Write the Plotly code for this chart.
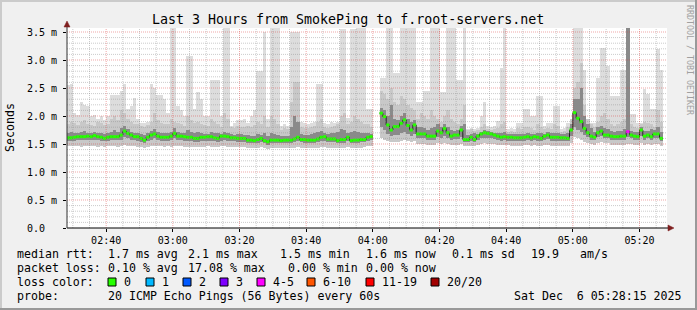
import plotly.graph_objects as go
import pandas as pd

# ---------------- data (1-minute bins starting 02:28) ----------------
start = pd.Timestamp("2025-12-06 02:28:00")
end_time = pd.Timestamp("2025-12-06 05:28:15")
begin_time = pd.Timestamp("2025-12-06 02:28:15")

median_ms = [1.61,1.61,1.62,1.63,1.63,1.63,1.64,1.63,1.65,1.63, 1.62,1.60,1.62,1.63,1.63,1.63,1.66,1.73,1.69,1.66,
             1.63,1.63,1.60,1.57,1.62,1.66,1.68,1.64,1.62,1.62,
             1.62,1.64,1.69,1.64,1.64,1.63,1.62,1.62,1.60,1.60, 1.62,1.62,1.63,1.63,1.61,1.60,1.64,1.64,1.63,1.61,
             1.61,1.60,1.60,1.60,1.57,1.57,1.56,1.58,1.60,1.56,
             1.54,1.57,1.57,1.57,1.56,1.57,1.57,1.57,1.59,1.62, 1.58,1.58,1.57,1.57,1.57,1.59,1.62,1.63,1.59,1.59,
             1.59,1.56,1.58,1.58,1.62,1.56,1.57,1.57,1.58,1.58,
             1.62,1.63,None,None,2.05,1.99,1.84,1.75,1.81,1.81, 1.87,1.93,1.83,1.75,1.84,1.68,1.68,1.68,1.64,1.64,
             1.64,1.73,1.70,1.78,1.70,1.64,1.66,1.66,1.75,1.58,
             1.58,1.62,1.58,1.64,1.68,1.70,1.69,1.68,1.66,1.64, 1.62,1.63,1.62,1.62,1.61,1.61,1.61,1.62,1.63,1.61,
             1.63,1.62,1.60,1.64,1.66,1.62,1.62,1.62,1.61,1.61,
             1.60,1.75,2.06,1.96,1.90,1.78,1.70,1.64,1.62,1.70, 1.73,1.66,1.66,1.64,1.63,1.63,1.64,1.64,1.72,1.66,
             1.64,1.63,1.75,1.64,1.66,1.63,1.68,1.68,1.60]

ping_max = [2.55,2.57,2.05,2.02,2.25,2.2,2.18,2.0,2.02,1.95, 2.0,1.92,2.0,2.38,2.38,2.38,2.45,2.57,2.12,2.18,
            2.32,1.95,1.88,1.88,1.9,2.57,2.5,2.38,2.38,2.3,
            2.06,3.6,3.6,2.18,2.1,2.0,3.07,3.07,2.12,2.42, 2.3,2.0,2.0,2.65,2.65,2.65,2.0,3.6,3.6,1.82,
            1.88,1.92,1.92,1.95,1.88,2.0,2.1,2.8,2.8,3.5,
            1.94,3.6,3.6,3.6,1.82,1.85,1.82,3.5,3.5,3.5, 1.9,1.88,1.85,1.88,1.9,2.57,2.57,1.88,1.85,1.9,
            1.88,1.9,3.55,3.55,1.97,3.55,3.55,3.6,3.6,3.6,
            2.12,2.12,None,None,2.68,2.68,3.6,3.6,2.77,2.77, 3.6,3.6,3.6,3.6,3.6,2.25,2.25,2.45,2.45,3.6,
            3.6,3.6,2.42,2.42,3.6,3.6,3.6,2.65,2.65,3.6,
            1.76,1.78,1.76,1.78,2.0,2.25,1.82,1.8,1.82,1.91, 2.86,3.6,1.76,1.78,1.76,1.88,1.88,2.12,2.12,2.0,
            2.0,2.36,2.36,1.82,1.88,1.88,2.18,2.18,1.76,1.78,
            1.88,1.88,3.6,3.6,3.6,2.83,1.88,1.88,1.88,2.68, 3.22,3.22,2.9,2.36,2.36,2.36,2.83,2.83,3.6,2.03,
            2.03,1.88,1.88,2.48,2.39,2.12,2.12,3.19,2.83]

ping_hi = [1.85,1.9,1.88,1.84,1.9,1.92,1.86,1.84,1.82,1.9, 1.88,1.84,1.86,1.95,2.0,1.92,2.1,2.05,1.95,1.9,
           1.86,1.85,1.82,1.8,1.84,1.9,2.05,1.92,1.88,1.86,
           1.85,1.95,1.9,1.88,1.85,1.82,2.0,1.92,1.88,1.9, 1.85,1.84,1.82,1.95,1.9,1.85,1.8,2.05,1.95,1.8,
           1.78,1.82,1.8,1.8,1.82,1.8,1.84,1.9,1.85,2.0,
           1.8,2.0,1.95,1.85,1.75,1.78,1.76,2.25,2.6,2.6, 1.8,1.78,1.78,1.8,1.82,1.9,1.95,1.8,1.78,1.8,
           1.82,1.85,2.0,2.05,1.85,1.9,2.0,1.95,1.9,1.85,
           1.85,1.8,None,None,2.45,2.4,2.3,2.5,2.25,2.2, 2.35,2.3,2.2,2.15,2.1,1.95,2.05,2.0,1.95,2.1,
           2.0,1.95,1.9,2.0,2.1,1.95,1.9,1.85,1.95,2.2,
           1.75,1.76,1.74,1.75,1.8,1.85,1.76,1.75,1.76,1.78, 1.85,1.9,1.72,1.74,1.72,1.78,1.76,1.8,1.8,1.78,
           1.75,1.85,1.8,1.76,1.78,1.76,1.85,1.82,1.72,1.74,
           1.8,1.95,2.5,2.6,2.95,2.2,1.95,1.85,1.8,1.9, 2.0,2.05,1.95,1.85,1.82,1.85,1.9,1.95,3.6,1.85,
           1.8,1.78,1.85,1.9,1.88,1.85,1.8,2.1,1.9]

ping_q3 = [1.7,1.72,1.7,1.7,1.72,1.74,1.7,1.7,1.72,1.7, 1.7,1.68,1.7,1.72,1.75,1.72,1.78,1.82,1.76,1.72,
           1.7,1.7,1.68,1.66,1.7,1.74,1.76,1.72,1.7,1.7,
           1.7,1.72,1.78,1.72,1.7,1.7,1.75,1.72,1.7,1.72, 1.7,1.68,1.68,1.72,1.7,1.7,1.68,1.72,1.7,1.68,
           1.66,1.68,1.67,1.66,1.66,1.64,1.65,1.68,1.66,1.7,
           1.64,1.7,1.68,1.66,1.64,1.65,1.64,1.8,2.0,1.9, 1.68,1.66,1.66,1.68,1.7,1.72,1.74,1.7,1.68,1.7,
           1.7,1.72,1.76,1.75,1.7,1.72,1.74,1.72,1.7,1.7,
           1.7,1.68,None,None,2.15,2.1,2.0,2.2,1.95,1.92, 2.0,2.05,1.95,1.9,1.92,1.8,1.8,1.78,1.75,1.78,
           1.8,1.85,1.8,1.86,1.8,1.75,1.74,1.75,1.82,1.85,
           1.66,1.67,1.7,1.68,1.72,1.75,1.74,1.72,1.7,1.7, 1.7,1.72,1.68,1.68,1.67,1.68,1.67,1.68,1.7,1.68,
           1.68,1.7,1.7,1.68,1.72,1.7,1.7,1.7,1.68,1.68,
           1.7,1.85,2.3,2.3,2.5,2.0,1.85,1.78,1.72,1.8, 1.82,1.78,1.76,1.74,1.72,1.74,1.74,1.76,3.6,1.74,
           1.72,1.72,1.8,1.74,1.74,1.76,1.75,1.8,1.72]

ping_q1 = [1.55,1.56,1.56,1.57,1.57,1.58,1.58,1.57,1.58,1.57, 1.56,1.55,1.56,1.57,1.57,1.57,1.58,1.62,1.6,1.58,
           1.57,1.56,1.54,1.52,1.55,1.58,1.6,1.57,1.56,1.56,
           1.56,1.57,1.6,1.57,1.57,1.56,1.56,1.55,1.54,1.54, 1.55,1.56,1.56,1.56,1.55,1.54,1.56,1.57,1.56,1.55,
           1.55,1.54,1.54,1.54,1.52,1.52,1.51,1.52,1.54,1.51,
           1.49,1.51,1.52,1.52,1.51,1.52,1.52,1.52,1.53,1.55, 1.53,1.52,1.52,1.52,1.52,1.53,1.55,1.56,1.53,1.53,
           1.53,1.51,1.52,1.52,1.55,1.51,1.52,1.52,1.53,1.53,
           1.56,1.57,None,None,1.8,1.75,1.68,1.64,1.66,1.66, 1.7,1.72,1.68,1.64,1.68,1.6,1.6,1.6,1.58,1.58,
           1.58,1.62,1.61,1.64,1.61,1.58,1.59,1.59,1.62,1.53,
           1.53,1.56,1.53,1.57,1.6,1.61,1.6,1.6,1.59,1.58, 1.56,1.57,1.56,1.56,1.55,1.55,1.55,1.56,1.57,1.55,
           1.57,1.56,1.55,1.58,1.59,1.56,1.56,1.56,1.55,1.55,
           1.55,1.64,1.8,1.75,1.72,1.66,1.62,1.58,1.57,1.62, 1.64,1.6,1.6,1.58,1.58,1.58,1.58,1.58,1.62,1.6,
           1.58,1.58,1.64,1.58,1.6,1.58,1.6,1.6,1.55]

ping_min = [1.46,1.46,1.47,1.47,1.45,1.46,1.47,1.47,1.46,1.45, 1.46,1.45,1.46,1.47,1.46,1.45,1.46,1.48,1.47,1.46,
            1.46,1.45,1.44,1.43,1.45,1.47,1.47,1.46,1.46,1.45,
            1.46,1.45,1.47,1.46,1.46,1.45,1.45,1.45,1.44,1.44, 1.45,1.45,1.46,1.45,1.45,1.44,1.46,1.46,1.45,1.44,
            1.45,1.44,1.44,1.44,1.43,1.43,1.42,1.43,1.44,1.42,
            1.41,1.42,1.43,1.43,1.42,1.43,1.43,1.42,1.43,1.44, 1.43,1.43,1.42,1.43,1.43,1.43,1.44,1.45,1.43,1.43,
            1.43,1.42,1.43,1.43,1.44,1.42,1.43,1.43,1.43,1.44,
            1.46,1.47,None,None,1.6,1.58,1.55,1.53,1.54,1.54, 1.56,1.57,1.55,1.53,1.55,1.5,1.5,1.5,1.49,1.49,
            1.49,1.51,1.5,1.52,1.5,1.48,1.49,1.49,1.5,1.46,
            1.46,1.47,1.46,1.48,1.5,1.51,1.5,1.5,1.5,1.49, 1.48,1.48,1.48,1.47,1.47,1.47,1.47,1.48,1.48,1.47,
            1.48,1.47,1.47,1.48,1.49,1.47,1.47,1.47,1.46,1.46,
            1.47,1.52,1.62,1.6,1.58,1.54,1.52,1.5,1.49,1.52, 1.53,1.51,1.51,1.49,1.49,1.49,1.49,1.49,1.5,1.5,
            1.49,1.49,1.52,1.49,1.5,1.49,1.5,1.5,1.47]

# lost pings per bin (only non-zero bins listed)
loss_bin_index = [168]
loss_bin_count = [4]

y_tick_vals = [0.0, 0.5, 1.0, 1.5, 2.0, 2.5, 3.0, 3.5]
y_tick_text = ["0.0\u00a0\u00a0", "0.5 m", "1.0 m", "1.5 m", "2.0 m", "2.5 m", "3.0 m", "3.5 m"]
x_tick_text = ["02:40", "03:00", "03:20", "03:40", "04:00", "04:20", "04:40", "05:00", "05:20"]

loss_legend_labels = ["0", "1", "2", "3", "4-5", "6-10", "11-19", "20/20"]
loss_legend_colors = ["#26ff00", "#00b8ff", "#0059ff", "#7e00ff", "#ff00ff", "#ff5500", "#ff0000", "#a10000"]

# ---------------- figure ----------------
W, H = 697, 310
L, T, PW, PH = 67, 28, 600, 200
FONT = "DejaVu Sans Mono"

def px(x):
    return (x - L) / PW

def py(y):
    return (T + PH - y) / PH

n = len(median_ms)
bin_left = [start + pd.Timedelta(minutes=k) for k in range(n)]
bin_center = [b + pd.Timedelta(seconds=30) for b in bin_left]

fig = go.Figure()

def band(lo, hi, color):
    base, h = [], []
    for a, b in zip(lo, hi):
        if a is None or b is None:
            base.append(None); h.append(None)
        else:
            base.append(a); h.append(b - a)
    fig.add_trace(go.Bar(x=bin_center, y=h, base=base, width=[60000] * n,
                         marker=dict(color=color, line=dict(width=0)),
                         hoverinfo="skip"))

band(ping_min, ping_max, "#dddddd")
band(ping_min, ping_hi, "#c8c8c8")
band(ping_q1, ping_q3, "#8a8a8a")

# thin dark step line connecting medians
sx, sy = [], []
for k in range(n):
    m = median_ms[k]
    if m is None:
        sx.append(bin_left[k]); sy.append(None)
        continue
    sx.append(bin_left[k]); sy.append(m)
    if k + 1 >= n or median_ms[k + 1] is None:
        sx.append(bin_left[k] + pd.Timedelta(minutes=1)); sy.append(m)
fig.add_trace(go.Scatter(x=sx, y=sy, mode="lines", line=dict(color="#202020", width=1, shape="hv"),
                         connectgaps=False, hoverinfo="skip"))

# loss-coloured median segments
def loss_color(cnt):
    if cnt == 0: return loss_legend_colors[0]
    if cnt == 1: return loss_legend_colors[1]
    if cnt == 2: return loss_legend_colors[2]
    if cnt == 3: return loss_legend_colors[3]
    if cnt <= 5: return loss_legend_colors[4]
    if cnt <= 10: return loss_legend_colors[5]
    if cnt <= 19: return loss_legend_colors[6]
    return loss_legend_colors[7]

loss_count = {i: c for i, c in zip(loss_bin_index, loss_bin_count)}
segs = {}
for k in range(n):
    m = median_ms[k]
    if m is None:
        continue
    col = loss_color(loss_count.get(k, 0))
    xs, ys = segs.setdefault(col, ([], []))
    xs += [bin_left[k], bin_left[k] + pd.Timedelta(minutes=1), None]
    ys += [m, m, None]
for col, (xs, ys) in segs.items():
    fig.add_trace(go.Scatter(x=xs, y=ys, mode="lines", line=dict(color=col, width=3),
                             connectgaps=False, hoverinfo="skip"))

shapes = []
# grid (drawn above the smoke, like rrdtool)
grid_minor = "rgba(140,140,140,0.45)"
grid_major = "rgba(220,60,60,0.45)"
for i in range(1, 36):
    v = i / 10
    shapes.append(dict(type="line", xref="paper", yref="y", x0=0, x1=1, y0=v, y1=v, layer="above",
                       line=dict(color=grid_major if i % 5 == 0 else grid_minor, width=1, dash="1px,1px")))
t = pd.Timestamp("2025-12-06 02:30:00")
while t < end_time:
    major = (t.minute % 20 == 0)
    shapes.append(dict(type="line", xref="x", yref="paper", x0=t, x1=t, y0=0, y1=1, layer="above",
                       line=dict(color=grid_major if major else grid_minor, width=1, dash="1px,1px")))
    t += pd.Timedelta(minutes=5)

# axes with arrows
axis_col = "#303030"
arrow_col = "#7f1f1f"
shapes.append(dict(type="line", xref="paper", yref="paper", x0=px(67), x1=px(668), y0=0, y1=0,
                   layer="above", line=dict(color="#000000", width=1)))
shapes.append(dict(type="line", xref="paper", yref="paper", x0=0, x1=0, y0=0, y1=py(25),
                   layer="above", line=dict(color=axis_col, width=1)))
shapes.append(dict(type="path", xref="paper", yref="paper", layer="above",
                   path=f"M {px(674)},{py(228)} L {px(668)},{py(225)} L {px(668)},{py(231)} Z",
                   fillcolor=arrow_col, line=dict(color=arrow_col, width=0.5)))
shapes.append(dict(type="path", xref="paper", yref="paper", layer="above",
                   path=f"M {px(67)},{py(21)} L {px(64)},{py(27)} L {px(70)},{py(27)} Z",
                   fillcolor=arrow_col, line=dict(color=arrow_col, width=0.5)))

# 3D border
shapes.append(dict(type="line", xref="paper", yref="paper", x0=px(0), x1=px(697), y0=py(1), y1=py(1),
                   line=dict(color="#cbcbcb", width=2)))
shapes.append(dict(type="line", xref="paper", yref="paper", x0=px(1), x1=px(1), y0=py(0), y1=py(310),
                   line=dict(color="#cbcbcb", width=2)))
shapes.append(dict(type="line", xref="paper", yref="paper", x0=px(0), x1=px(697), y0=py(309), y1=py(309),
                   line=dict(color="#999999", width=2)))
shapes.append(dict(type="line", xref="paper", yref="paper", x0=px(696), x1=px(696), y0=py(0), y1=py(310),
                   line=dict(color="#999999", width=2)))

annotations = []

def text(s, x, y, size=11.6, anchor="left", color="#000000", angle=0):
    annotations.append(dict(text=s, x=px(x), y=py(y), xref="paper", yref="paper", showarrow=False,
                            xanchor=anchor, yanchor="middle", borderpad=0, textangle=angle,
                            font=dict(family=FONT, size=size, color=color)))

text("Last 3 Hours from SmokePing to f.root-servers.net", 347.5, 19, size=13.3, anchor="center")
text("Seconds", 10, 128, angle=-90, anchor="center")
text("RRDTOOL / TOBI OETIKER", 690, 60, size=8.3, anchor="center", color="#a0a0a0", angle=90)

row1 = [("median rtt:", 16), ("1.7 ms avg", 107), ("2.1 ms max", 187), ("1.5 ms min", 279),
        ("1.6 ms now", 365), ("0.1 ms sd", 451), ("19.9", 530), ("am/s", 579)]
row2 = [("packet loss:", 16), ("0.10 % avg", 107), ("17.08 % max", 187), ("0.00 % min", 287),
        ("0.00 % now", 365)]
row4 = [("probe:", 16), ("20 ICMP Echo Pings (56 Bytes) every 60s", 107),
        ("Sat Dec\u00a0 6 05:28:15 2025", 513)]
for s, x in row1:
    text(s, x, 254)
for s, x in row2:
    text(s, x, 268)
for s, x in row4:
    text(s, x, 296)
text("loss color:", 16, 282)
box_x = [108, 146, 183, 220, 257, 307, 366, 431]
for lab, col, bx in zip(loss_legend_labels, loss_legend_colors, box_x):
    shapes.append(dict(type="rect", xref="paper", yref="paper", x0=px(bx), x1=px(bx + 8),
                       y0=py(278), y1=py(286), fillcolor=col, line=dict(color="#000000", width=1)))
    text(lab, bx + 15, 282)

fig.update_layout(
    width=W, height=H, autosize=False,
    margin=dict(l=L, r=W - L - PW, t=T, b=H - T - PH, pad=0),
    paper_bgcolor="#f0f0f0", plot_bgcolor="#ffffff",
    barmode="overlay", bargap=0, showlegend=False, hovermode=False,
    shapes=shapes, annotations=annotations,
    font=dict(family=FONT, size=10, color="#000000"),
)
fig.update_xaxes(type="date", range=[begin_time, end_time], showgrid=False, zeroline=False,
                 showline=False, tickmode="array",
                 tickvals=[pd.Timestamp("2025-12-06 " + s) for s in x_tick_text], ticktext=x_tick_text,
                 ticks="outside", ticklen=3, tickcolor="#000000", tickfont=dict(family=FONT, size=10),
                 fixedrange=True)
fig.update_yaxes(range=[0, 3.5714], showgrid=False, zeroline=False, showline=False,
                 tickmode="array", tickvals=y_tick_vals, ticktext=y_tick_text,
                 ticks="outside", ticklen=3, tickcolor="#000000", tickfont=dict(family=FONT, size=10),
                 ticklabelstandoff=4, fixedrange=True)

fig.write_html("out.html")
